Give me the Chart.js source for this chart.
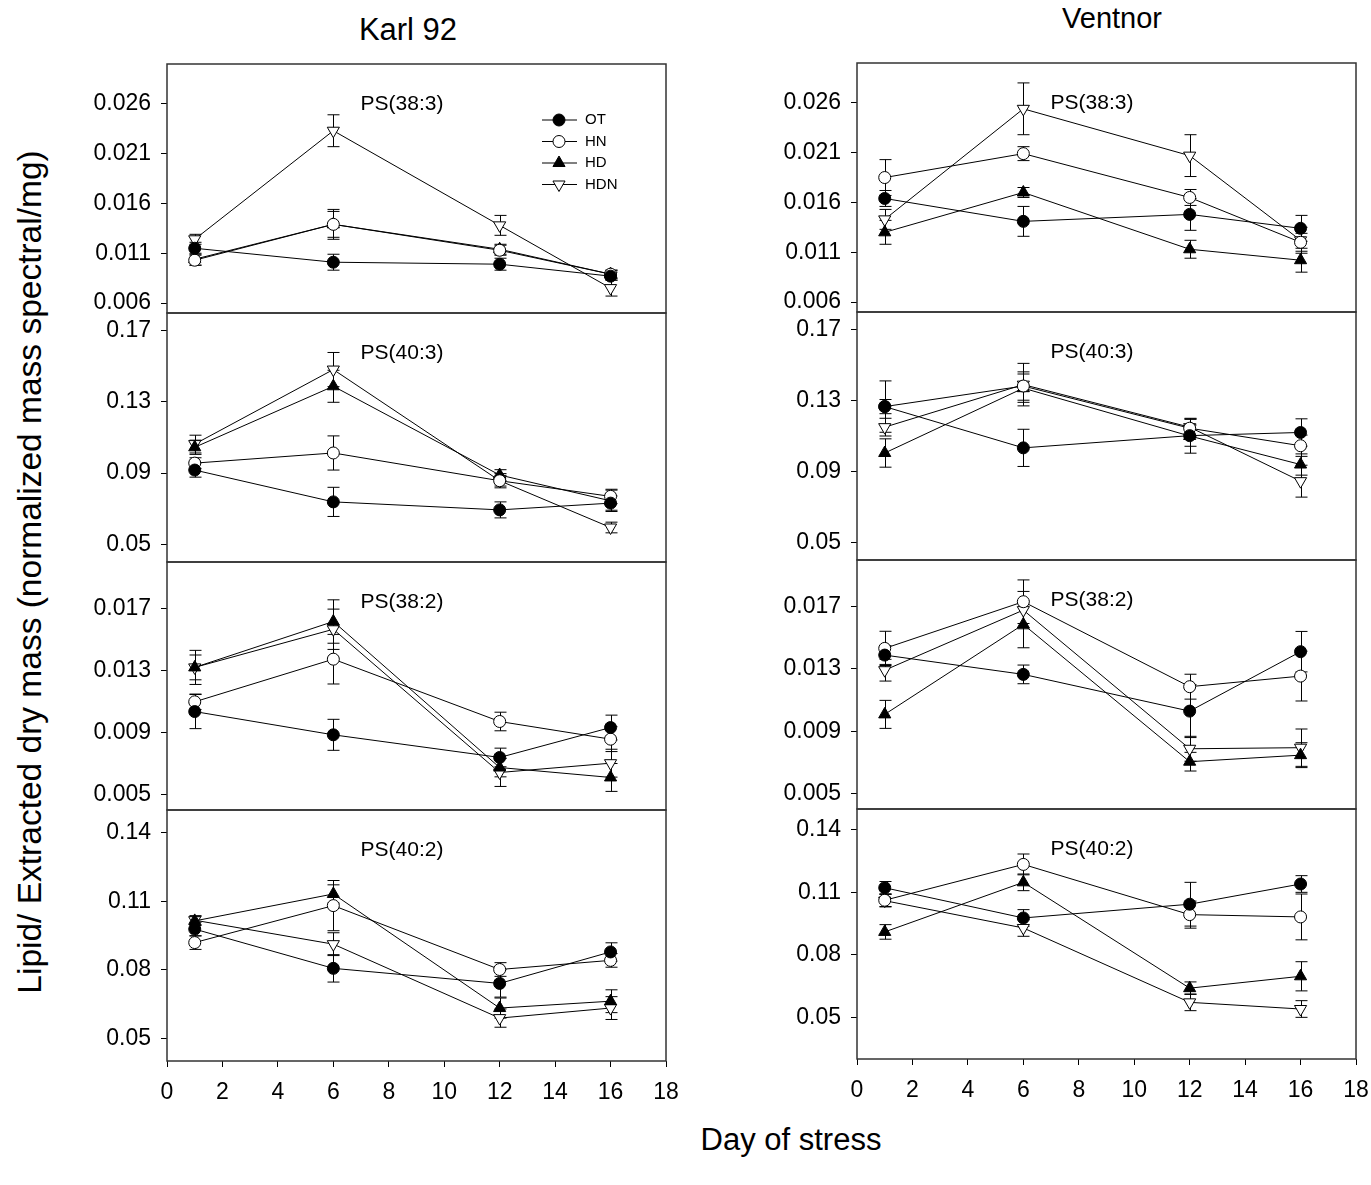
<!DOCTYPE html>
<html>
<head>
<meta charset="utf-8">
<script src="https://cdn.jsdelivr.net/npm/chart.js@4.4.0/dist/chart.umd.min.js"></script>
<style>
  html, body { margin: 0; padding: 0; overflow: hidden; background: #fff; }
  body { width: 1371px; height: 1185px; position: relative; font-family: "Liberation Sans", Arial, sans-serif; }
  canvas { position: absolute; }
  .txt { position: absolute; white-space: nowrap; color: #000; transform: translate(-50%, -50%); }
</style>
</head>
<body>
<div class="txt" style="left:408px; top:30px; font-size:31px;">Karl 92</div>
<div class="txt" style="left:1112px; top:18px; font-size:29px;">Ventnor</div>
<div class="txt" style="left:791px; top:1140px; font-size:31px;">Day of stress</div>
<div class="txt" style="left:30px; top:572px; font-size:33.5px; transform: translate(-50%, -50%) rotate(-90deg);">Lipid/ Extracted dry mass (normalized mass spectral/mg)</div>

<script>
// jours de prélèvement et graduations
const days = [1, 6, 12, 16];
const xTicks = [0, 2, 4, 6, 8, 10, 12, 14, 16, 18];
const seriesNames = ['OT', 'HN', 'HD', 'HDN'];

// graduations y par rangée
const ticks383 = [0.006, 0.011, 0.016, 0.021, 0.026];
const labels383 = ['0.006', '0.011', '0.016', '0.021', '0.026'];
const ticks403 = [0.05, 0.09, 0.13, 0.17];
const labels403 = ['0.05', '0.09', '0.13', '0.17'];
const ticks382 = [0.005, 0.009, 0.013, 0.017];
const labels382 = ['0.005', '0.009', '0.013', '0.017'];
const ticks402 = [0.05, 0.08, 0.11, 0.14];
const labels402 = ['0.05', '0.08', '0.11', '0.14'];

// --- Karl 92 ---
const karl383_OT  = [0.0115, 0.0101, 0.0099, 0.0087];
const karl383_HN  = [0.0103, 0.0139, 0.0113, 0.0089];
const karl383_HD  = [0.0104, 0.0139, 0.0114, 0.0089];
const karl383_HDN = [0.0124, 0.0233, 0.0138, 0.0075];
const karl383_OT_err  = [0.0006, 0.0008, 0.0006, 0.0004];
const karl383_HN_err  = [0.0005, 0.0013, 0.0005, 0.0004];
const karl383_HD_err  = [0.0006, 0.0015, 0.0005, 0.0004];
const karl383_HDN_err = [0.0005, 0.0016, 0.0010, 0.0008];

const karl403_OT  = [0.0917, 0.0738, 0.0693, 0.0731];
const karl403_HN  = [0.0956, 0.1013, 0.0857, 0.0769];
const karl403_HD  = [0.1045, 0.1388, 0.0889, 0.0744];
const karl403_HDN = [0.1063, 0.1482, 0.0857, 0.0594];
const karl403_OT_err  = [0.004, 0.0082, 0.0045, 0.004];
const karl403_HN_err  = [0.003, 0.0096, 0.003, 0.004];
const karl403_HD_err  = [0.004, 0.009, 0.003, 0.006];
const karl403_HDN_err = [0.005, 0.0096, 0.004, 0.003];

const karl382_OT  = [0.01035, 0.00885, 0.00739, 0.00932];
const karl382_HN  = [0.01098, 0.01373, 0.00971, 0.00857];
const karl382_HD  = [0.0132, 0.01616, 0.00674, 0.0061];
const karl382_HDN = [0.0132, 0.01566, 0.00642, 0.00702];
const karl382_OT_err  = [0.0011, 0.001, 0.0006, 0.0008];
const karl382_HN_err  = [0.0005, 0.0016, 0.0006, 0.0008];
const karl382_HD_err  = [0.0008, 0.0014, 0.0006, 0.0009];
const karl382_HDN_err = [0.0011, 0.0013, 0.0009, 0.0009];

const karl402_OT  = [0.0978, 0.0806, 0.074, 0.0878];
const karl402_HN  = [0.0919, 0.1081, 0.0801, 0.0841];
const karl402_HD  = [0.1014, 0.1132, 0.0632, 0.0662];
const karl402_HDN = [0.1017, 0.0912, 0.0588, 0.0632];
const karl402_OT_err  = [0.003, 0.006, 0.006, 0.004];
const karl402_HN_err  = [0.003, 0.011, 0.003, 0.003];
const karl402_HD_err  = [0.002, 0.004, 0.0044, 0.005];
const karl402_HDN_err = [0.002, 0.005, 0.004, 0.005];

// --- Ventnor ---
const vent383_OT  = [0.0164, 0.0141, 0.0148, 0.0134];
const vent383_HN  = [0.0185, 0.0209, 0.0165, 0.0120];
const vent383_HD  = [0.0130, 0.0170, 0.0113, 0.0102];
const vent383_HDN = [0.0143, 0.0254, 0.0207, 0.0122];
const vent383_OT_err  = [0.0008, 0.0015, 0.0016, 0.0013];
const vent383_HN_err  = [0.0018, 0.0007, 0.0008, 0.0009];
const vent383_HD_err  = [0.0012, 0.0005, 0.0009, 0.0012];
const vent383_HDN_err = [0.001, 0.0026, 0.0021, 0.0013];

const vent403_OT  = [0.1266, 0.1033, 0.1102, 0.112];
const vent403_HN  = [0.1266, 0.1382, 0.1144, 0.1045];
const vent403_HD  = [0.1004, 0.137, 0.110, 0.0939];
const vent403_HDN = [0.115, 0.139, 0.115, 0.0845];
const vent403_OT_err  = [0.004, 0.0105, 0.006, 0.0077];
const vent403_HN_err  = [0.0145, 0.008, 0.005, 0.006];
const vent403_HD_err  = [0.008, 0.008, 0.0097, 0.006];
const vent403_HDN_err = [0.005, 0.012, 0.005, 0.009];

const vent382_OT  = [0.01389, 0.01265, 0.01029, 0.01411];
const vent382_HN  = [0.01432, 0.01732, 0.01186, 0.01254];
const vent382_HD  = [0.01008, 0.01586, 0.00704, 0.00746];
const vent382_HDN = [0.01292, 0.01678, 0.00787, 0.00794];
const vent382_OT_err  = [0.0006, 0.0006, 0.0017, 0.0013];
const vent382_HN_err  = [0.0011, 0.0014, 0.0008, 0.0016];
const vent382_HD_err  = [0.0009, 0.0015, 0.0006, 0.0008];
const vent382_HDN_err = [0.0007, 0.0012, 0.0008, 0.0012];

const vent402_OT  = [0.1122, 0.0977, 0.1043, 0.114];
const vent402_HN  = [0.1062, 0.1234, 0.0993, 0.0982];
const vent402_HD  = [0.091, 0.1148, 0.064, 0.0697];
const vent402_HDN = [0.106, 0.0929, 0.0572, 0.054];
const vent402_OT_err  = [0.003, 0.004, 0.0105, 0.004];
const vent402_HN_err  = [0.003, 0.005, 0.0065, 0.011];
const vent402_HD_err  = [0.0035, 0.004, 0.003, 0.007];
const vent402_HDN_err = [0.003, 0.004, 0.004, 0.004];

// style des symboles (rond plein, rond vide, triangle plein, triangle renversé vide)
const markers = [
    { style: 'circle',   rot: 0,   r: 6, fill: '#000' },
    { style: 'circle',   rot: 0,   r: 6, fill: '#fff' },
    { style: 'triangle', rot: 0,   r: 7, fill: '#000' },
    { style: 'triangle', rot: 180, r: 7, fill: '#fff' }
];

const FONT = '"Liberation Sans", Arial, sans-serif';
const Y_AXIS_W = 110;   // largeur réservée aux étiquettes y
const PAD_T = 20, PAD_B = 20, PAD_R = 25, X_AXIS_H = 60;

// position des cadres (bord gauche du tracé, bords haut/bas des rangées)
const colLeft = [167, 857];
const colWidth = 499;
const rowEdges = [[64, 313, 562, 810, 1061], [63, 312, 560, 809, 1059]];

const panels = [
    { col: 0, row: 0, label: 'PS(38:3)', min: 0.005, max: 0.030, ticks: ticks383, tl: labels383, legend: true,
      means: [karl383_OT, karl383_HN, karl383_HD, karl383_HDN], errs: [karl383_OT_err, karl383_HN_err, karl383_HD_err, karl383_HDN_err] },
    { col: 0, row: 1, label: 'PS(40:3)', min: 0.04, max: 0.18, ticks: ticks403, tl: labels403,
      means: [karl403_OT, karl403_HN, karl403_HD, karl403_HDN], errs: [karl403_OT_err, karl403_HN_err, karl403_HD_err, karl403_HDN_err] },
    { col: 0, row: 2, label: 'PS(38:2)', min: 0.004, max: 0.020, ticks: ticks382, tl: labels382,
      means: [karl382_OT, karl382_HN, karl382_HD, karl382_HDN], errs: [karl382_OT_err, karl382_HN_err, karl382_HD_err, karl382_HDN_err] },
    { col: 0, row: 3, label: 'PS(40:2)', min: 0.04, max: 0.15, ticks: ticks402, tl: labels402,
      means: [karl402_OT, karl402_HN, karl402_HD, karl402_HDN], errs: [karl402_OT_err, karl402_HN_err, karl402_HD_err, karl402_HDN_err] },
    { col: 1, row: 0, label: 'PS(38:3)', min: 0.005, max: 0.030, ticks: ticks383, tl: labels383,
      means: [vent383_OT, vent383_HN, vent383_HD, vent383_HDN], errs: [vent383_OT_err, vent383_HN_err, vent383_HD_err, vent383_HDN_err] },
    { col: 1, row: 1, label: 'PS(40:3)', min: 0.04, max: 0.18, ticks: ticks403, tl: labels403,
      means: [vent403_OT, vent403_HN, vent403_HD, vent403_HDN], errs: [vent403_OT_err, vent403_HN_err, vent403_HD_err, vent403_HDN_err] },
    { col: 1, row: 2, label: 'PS(38:2)', min: 0.004, max: 0.020, ticks: ticks382, tl: labels382,
      means: [vent382_OT, vent382_HN, vent382_HD, vent382_HDN], errs: [vent382_OT_err, vent382_HN_err, vent382_HD_err, vent382_HDN_err] },
    { col: 1, row: 3, label: 'PS(40:2)', min: 0.03, max: 0.15, ticks: ticks402, tl: labels402,
      means: [vent402_OT, vent402_HN, vent402_HD, vent402_HDN], errs: [vent402_OT_err, vent402_HN_err, vent402_HD_err, vent402_HDN_err] }
];

// petit dessin de symbole pour la légende
function drawMarker(ctx, m, x, y) {
    ctx.save();
    ctx.fillStyle = m.fill;
    ctx.strokeStyle = '#000';
    ctx.lineWidth = 1;
    ctx.beginPath();
    if (m.style === 'circle') {
        ctx.arc(x, y, m.r, 0, Math.PI * 2);
    } else {
        let a = m.rot * Math.PI / 180;
        for (let k = 0; k < 3; k++) {
            const px = x + Math.sin(a) * m.r, py = y - Math.cos(a) * m.r;
            if (k === 0) ctx.moveTo(px, py); else ctx.lineTo(px, py);
            a += 2 * Math.PI / 3;
        }
        ctx.closePath();
    }
    ctx.fill();
    ctx.stroke();
    ctx.restore();
}

// barres d'erreur, cadre et titre du panneau
const panelDeco = {
    id: 'panelDeco',
    beforeDatasetsDraw(chart, args, opts) {
        const ctx = chart.ctx, a = chart.chartArea;
        const xs = chart.scales.x, ys = chart.scales.y;
        ctx.save();
        ctx.strokeStyle = '#333';
        ctx.lineWidth = 1.5;
        ctx.strokeRect(a.left, a.top, a.right - a.left, a.bottom - a.top);

        ctx.strokeStyle = '#000';
        ctx.lineWidth = 1;
        chart.data.datasets.forEach(ds => {
            ds.data.forEach((p, j) => {
                const e = ds.errors[j];
                const x = Math.round(xs.getPixelForValue(p.x)) + 0.5;
                const y1 = ys.getPixelForValue(p.y + e);
                const y2 = ys.getPixelForValue(p.y - e);
                ctx.beginPath();
                ctx.moveTo(x, y1); ctx.lineTo(x, y2);
                ctx.moveTo(x - 6, y1); ctx.lineTo(x + 6, y1);
                ctx.moveTo(x - 6, y2); ctx.lineTo(x + 6, y2);
                ctx.stroke();
            });
        });

        ctx.fillStyle = '#000';
        ctx.font = '21px ' + FONT;
        ctx.textAlign = 'center';
        ctx.textBaseline = 'middle';
        ctx.fillText(opts.label, a.left + 235, a.top + 40);
        ctx.restore();
    },
    afterDatasetsDraw(chart, args, opts) {
        if (!opts.legend) return;
        const ctx = chart.ctx, a = chart.chartArea;
        ctx.save();
        ctx.font = '15px ' + FONT;
        ctx.textBaseline = 'middle';
        ctx.textAlign = 'left';
        seriesNames.forEach((name, i) => {
            const y = a.top + 56 + i * 21.5;
            ctx.strokeStyle = '#000';
            ctx.lineWidth = 1;
            ctx.beginPath();
            ctx.moveTo(a.left + 375, y); ctx.lineTo(a.left + 410, y);
            ctx.stroke();
            drawMarker(ctx, markers[i], a.left + 392, y);
            ctx.fillStyle = '#000';
            ctx.fillText(name, a.left + 418, y);
        });
        ctx.restore();
    }
};

panels.forEach(p => {
    const top = rowEdges[p.col][p.row];
    const bottom = rowEdges[p.col][p.row + 1];
    const plotH = bottom - top;
    const isBottom = p.row === 3;

    const canvas = document.createElement('canvas');
    const w = Y_AXIS_W + colWidth + PAD_R;
    const h = PAD_T + plotH + (isBottom ? X_AXIS_H : PAD_B);
    canvas.width = w;
    canvas.height = h;
    canvas.style.left = (colLeft[p.col] - Y_AXIS_W) + 'px';
    canvas.style.top = (top - PAD_T) + 'px';
    document.body.appendChild(canvas);

    const datasets = seriesNames.map((name, i) => ({
        label: name,
        data: days.map((d, j) => ({ x: d, y: p.means[i][j] })),
        errors: p.errs[i],
        borderColor: '#000',
        borderWidth: 1,
        pointStyle: markers[i].style,
        pointRotation: markers[i].rot,
        pointRadius: markers[i].r,
        pointBackgroundColor: markers[i].fill,
        pointBorderColor: '#000',
        pointBorderWidth: 1,
        tension: 0,
        clip: false
    }));

    new Chart(canvas, {
        type: 'line',
        data: { datasets: datasets },
        options: {
            responsive: false,
            animation: false,
            devicePixelRatio: 1,
            layout: { padding: { left: 0, top: PAD_T, right: PAD_R, bottom: isBottom ? 0 : PAD_B } },
            plugins: {
                legend: { display: false },
                tooltip: { enabled: false },
                panelDeco: { label: p.label, legend: !!p.legend }
            },
            scales: {
                x: {
                    type: 'linear',
                    min: 0, max: 18,
                    display: isBottom,
                    afterBuildTicks: s => { s.ticks = xTicks.map(v => ({ value: v })); },
                    afterFit: s => { s.height = isBottom ? X_AXIS_H : 0; s.paddingLeft = 0; s.paddingRight = 0; },
                    grid: { display: true, drawOnChartArea: false, drawTicks: true, tickLength: 6, color: '#000' },
                    border: { display: false },
                    ticks: { color: '#000', font: { family: FONT, size: 23 }, padding: 12, maxRotation: 0, autoSkip: false }
                },
                y: {
                    type: 'linear',
                    min: p.min, max: p.max,
                    afterBuildTicks: s => { s.ticks = p.ticks.map(v => ({ value: v })); },
                    afterFit: s => { s.width = Y_AXIS_W; s.paddingTop = 0; s.paddingBottom = 0; },
                    grid: { display: true, drawOnChartArea: false, drawTicks: true, tickLength: 6, color: '#000' },
                    border: { display: false },
                    ticks: {
                        color: '#000', font: { family: FONT, size: 23 }, padding: 10, autoSkip: false,
                        callback: (v, i) => p.tl[i]
                    }
                }
            }
        },
        plugins: [panelDeco]
    });
});
</script>
</body>
</html>
